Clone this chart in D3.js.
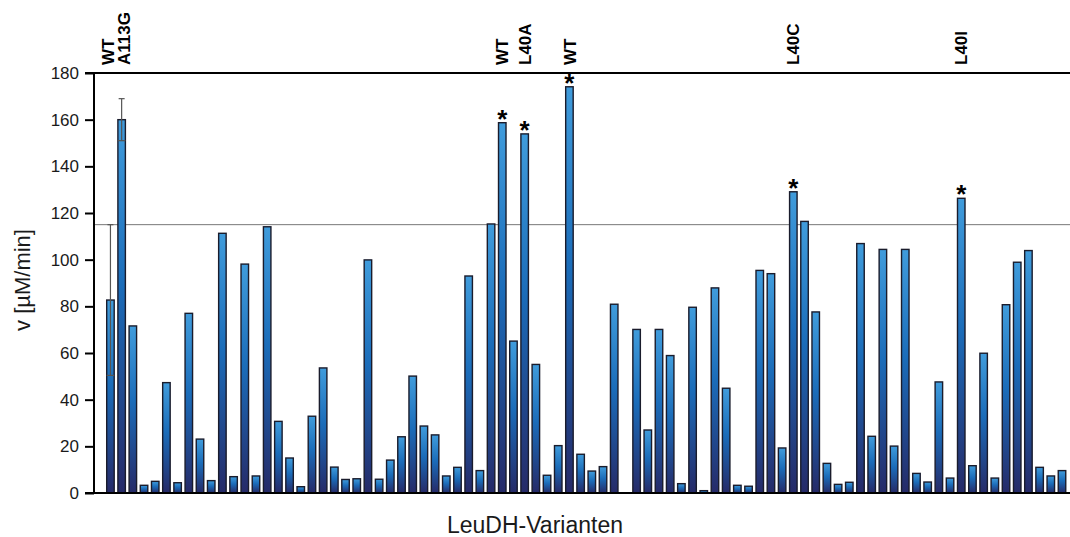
<!DOCTYPE html>
<html>
<head>
<meta charset="utf-8">
<script src="https://cdn.jsdelivr.net/npm/d3@7"></script>
<style>
  body { margin: 0; background: #fff; }
  svg { display: block; font-family: "Liberation Sans", Arial, sans-serif; }
</style>
</head>
<body>
<div id="chart"></div>
<script>
// Measured activities (v in µM/min), one slot per variant; null = empty slot
const values = [
    82.7, 160, 71.6, 3.3, 5.0, 47.3, 4.4, 77.0, 23.1, 5.3,
    111.3, 7.0, 98.1, 7.3, 114.1, 30.7, 15.0, 2.7, 32.9, 53.6,
    11.1, 5.8, 6.1, 99.9, 5.9, 14.1, 24.1, 50.1, 28.7, 24.9,
    7.3, 11.0, 93.0, 9.6, 115.3, 158.7, 65.1, 153.9, 55.1, 7.6,
    20.3, 174.1, 16.6, 9.4, 11.3, 80.9, null, 70.1, 27.0, 70.1,
    58.9, 4.0, 79.6, 1.0, 87.9, 44.9, 3.3, 2.9, 95.4, 94.0,
    19.3, 129.1, 116.4, 77.6, 12.7, 3.7, 4.6, 106.9, 24.3, 104.4,
    20.1, 104.4, 8.4, 4.7, 47.6, 6.4, 126.3, 11.7, 59.9, 6.4,
    80.7, 98.9, 103.9, 11.0, 7.3, 9.6
];

// Named variants (slot index -> label)
const labelSlots = [0, 1, 35, 37, 41, 61, 76];
const labelNames = ["WT", "A113G", "WT", "L40A", "WT", "L40C", "L40I"];

// Significance stars
const starSlots = [35, 37, 41, 61, 76];

// Error bars (slot, +/- value)
const errorSlots = [0, 1];
const errorValues = [32.3, 9];

// Wild type reference level
const referenceLevel = 115;

const yTicks = [0, 20, 40, 60, 80, 100, 120, 140, 160, 180];

const width = 1070;
const height = 537;
const plot = { left: 94, right: 1070, top: 73, bottom: 493 };

const svg = d3.select("#chart").append("svg")
    .attr("width", width)
    .attr("height", height);

const grad = svg.append("defs").append("linearGradient")
    .attr("id", "barGrad")
    .attr("x1", 0).attr("y1", 0).attr("x2", 0).attr("y2", 1);
grad.append("stop").attr("offset", "0%").attr("stop-color", "#409cdc");
grad.append("stop").attr("offset", "45%").attr("stop-color", "#1b6cb9");
grad.append("stop").attr("offset", "100%").attr("stop-color", "#262a68");

const x = d3.scaleBand()
    .domain(d3.range(values.length))
    .range([104.85, 1067.6])
    .paddingInner(0.33)
    .paddingOuter(0.165);

const y = d3.scaleLinear()
    .domain([0, 180])
    .range([plot.bottom, plot.top]);

// y axis ticks + labels
const yAxis = svg.append("g")
    .attr("transform", `translate(${plot.left},0)`)
    .call(d3.axisLeft(y).tickValues(yTicks).tickSize(9).tickPadding(6));
yAxis.select(".domain").remove();
yAxis.selectAll(".tick line").attr("stroke", "#000").attr("stroke-width", 2);
yAxis.selectAll(".tick text")
    .attr("fill", "#1a1a1a")
    .style("font-size", "17px");

// reference line (wild type level)
svg.append("line")
    .attr("x1", plot.left).attr("x2", plot.right)
    .attr("y1", y(referenceLevel)).attr("y2", y(referenceLevel))
    .attr("stroke", "#777")
    .attr("stroke-width", 1);

// bars
const bars = values.map((v, i) => ({ i, v })).filter(d => d.v !== null);
svg.selectAll(".bar")
    .data(bars)
    .enter()
    .append("rect")
    .attr("class", "bar")
    .attr("x", d => x(d.i))
    .attr("y", d => y(d.v))
    .attr("width", x.bandwidth())
    .attr("height", d => y(0) - y(d.v))
    .attr("fill", "url(#barGrad)")
    .attr("stroke", "#1a1c2c")
    .attr("stroke-width", 1.4);

// error bars
errorSlots.forEach((s, k) => {
    const cx = x(s) + x.bandwidth() / 2;
    const lo = y(values[s] - errorValues[k]);
    const hi = y(values[s] + errorValues[k]);
    const g = svg.append("g").attr("stroke", "#555").attr("stroke-width", 1.2);
    g.append("line").attr("x1", cx).attr("x2", cx).attr("y1", hi).attr("y2", lo);
    g.append("line").attr("x1", cx - 3).attr("x2", cx + 3).attr("y1", hi).attr("y2", hi);
    g.append("line").attr("x1", x(s)).attr("x2", x(s) + x.bandwidth()).attr("y1", lo).attr("y2", lo);
});

// stars
svg.selectAll(".star")
    .data(starSlots)
    .enter()
    .append("text")
    .attr("class", "star")
    .attr("x", s => x(s) + x.bandwidth() / 2)
    .attr("y", s => y(values[s]) + 5)
    .attr("text-anchor", "middle")
    .style("font-size", "26px")
    .style("font-weight", "bold")
    .text("*");

// frame lines
svg.append("line")
    .attr("x1", plot.left).attr("x2", plot.left)
    .attr("y1", plot.top).attr("y2", plot.bottom)
    .attr("stroke", "#000").attr("stroke-width", 2);
svg.append("line")
    .attr("x1", 85).attr("x2", plot.right)
    .attr("y1", plot.top).attr("y2", plot.top)
    .attr("stroke", "#000").attr("stroke-width", 2);
svg.append("line")
    .attr("x1", 85).attr("x2", plot.right)
    .attr("y1", plot.bottom).attr("y2", plot.bottom)
    .attr("stroke", "#000").attr("stroke-width", 2);

// variant labels above the frame; neighbouring labels are pushed apart a little
svg.selectAll(".vlabel")
    .data(labelSlots)
    .enter()
    .append("text")
    .attr("class", "vlabel")
    .attr("transform", (s, k) => {
        let nudge = 0;
        if (labelSlots.includes(s + 1)) nudge -= 2.5;
        if (labelSlots.includes(s - 1)) nudge += 2.5;
        return `translate(${x(s) + x.bandwidth() / 2 + nudge},65) rotate(-90)`;
    })
    .attr("dy", "0.36em")
    .style("font-size", "17px")
    .style("font-weight", "bold")
    .text((s, k) => labelNames[k]);

// axis titles
svg.append("text")
    .attr("x", 535)
    .attr("y", 533)
    .attr("text-anchor", "middle")
    .style("font-size", "23px")
    .attr("fill", "#1a1a1a")
    .text("LeuDH-Varianten");

svg.append("text")
    .attr("transform", "translate(30,280) rotate(-90)")
    .attr("text-anchor", "middle")
    .style("font-size", "22px")
    .attr("fill", "#1a1a1a")
    .text("v [µM/min]");
</script>
</body>
</html>
